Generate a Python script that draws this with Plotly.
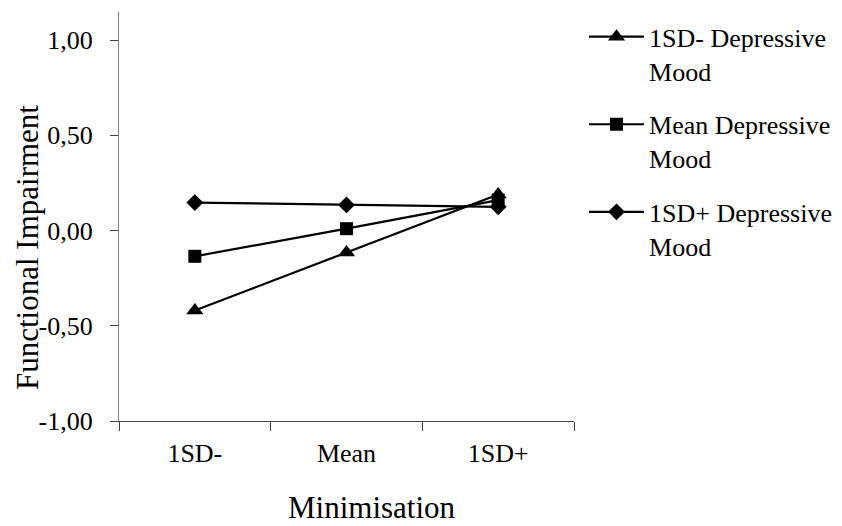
import plotly.graph_objects as go

categories = ["1SD-", "Mean", "1SD+"]
series_names = ["1SD- Depressive<br>Mood", "Mean Depressive<br>Mood", "1SD+ Depressive<br>Mood"]
low_mood = [-0.42, -0.115, 0.19]
mean_mood = [-0.135, 0.01, 0.16]
high_mood = [0.147, 0.135, 0.125]
y_ticks = [-1.0, -0.5, 0.0, 0.5, 1.0]
y_tick_text = [f"{v:.2f}".replace(".", ",") for v in y_ticks]
x_title = "Minimisation"
y_title = "Functional Impairment"

symbols = ["triangle-up", "square", "diamond"]
marker_sizes = [15, 13, 13]
font_family = "Liberation Serif"

fig = go.Figure()
for i, (name, vals, sym, ms) in enumerate(zip(series_names, [low_mood, mean_mood, high_mood], symbols, marker_sizes)):
    fig.add_trace(go.Scatter(
        x=categories, y=vals, name=name, mode="lines+markers",
        line=dict(color="black", width=2.2),
        marker=dict(symbol=sym, size=ms, color="black"),
        legendgroup=f"g{i}",
    ))

fig.update_layout(
    width=842, height=526,
    margin=dict(l=119, r=268, t=12, b=105, autoexpand=False),
    paper_bgcolor="white", plot_bgcolor="white",
    font=dict(family=font_family, size=26, color="black"),
    showlegend=True,
    legend=dict(x=1.022, y=0.997, xanchor="left", yanchor="top",
                font=dict(family=font_family, size=26, color="black"),
                valign="top",
                tracegroupgap=17, itemwidth=55, bgcolor="rgba(0,0,0,0)"),
    xaxis=dict(
        type="category", tickson="boundaries", range=[-0.5, 2.5],
        showline=True, linecolor="#404040", linewidth=1.2,
        ticks="outside", ticklen=9, tickcolor="#404040",
        showgrid=False, zeroline=False, automargin=False,
        tickfont=dict(family=font_family, size=26),
        ticklabelstandoff=9,
    ),
    yaxis=dict(
        range=[-1.0, 1.148], tickvals=y_ticks, ticktext=y_tick_text,
        showline=True, linecolor="#808080", linewidth=1.2,
        ticks="outside", ticklen=8, tickcolor="#404040",
        showgrid=False, zeroline=False, automargin=False,
        tickfont=dict(family=font_family, size=26),
        ticklabelstandoff=12,
    ),
    annotations=[
        dict(text=x_title, xref="paper", yref="paper", x=0.556, y=-0.2127,
             xanchor="center", yanchor="middle", showarrow=False,
             font=dict(family=font_family, size=31, color="black")),
        dict(text=y_title, xref="paper", yref="paper", x=-0.2022, y=0.4254,
             xanchor="center", yanchor="middle", showarrow=False, textangle=-90,
             font=dict(family=font_family, size=31, color="black")),
    ],
)

fig.write_html("out.html", config={"displayModeBar": False},
               post_script="document.body.style.margin='0';")
